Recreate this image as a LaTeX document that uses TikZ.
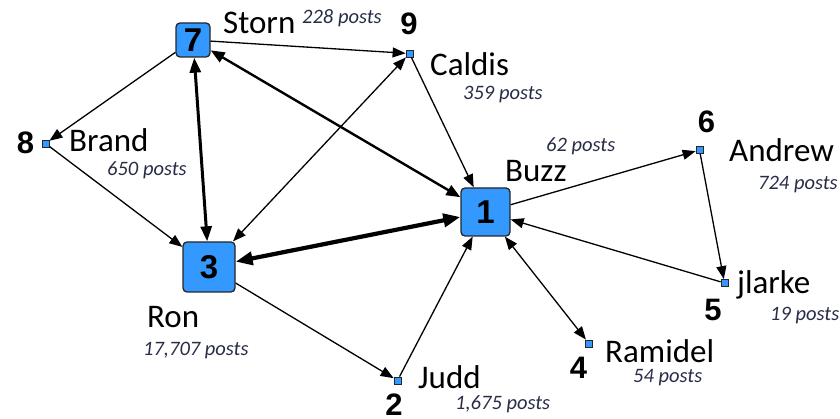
\documentclass[tikz,border=0pt]{standalone}
\usepackage{fontspec}
\setmainfont{Carlito}
\newfontfamily\numfont{Liberation Sans}
\usetikzlibrary{arrows.meta}
\definecolor{nodeblue}{RGB}{51,153,255}
\definecolor{postcol}{RGB}{40,45,70}
\begin{document}
\begin{tikzpicture}[x=1pt,y=-1pt,
  bigbox/.style={draw=black!85, line width=1.3pt, fill=nodeblue, rounded corners=4pt, inner sep=0pt,
    font=\numfont\bfseries\fontsize{33}{33}\selectfont},
  dot/.style={draw=black!85, line width=0.8pt, fill=nodeblue, minimum size=7pt, inner sep=0pt},
  uname/.style={anchor=base west, inner sep=0pt, font=\fontsize{33}{33}\selectfont},
  posts/.style={anchor=base west, inner sep=0pt, text=postcol, font=\itshape\fontsize{20.5}{20.5}\selectfont},
  num/.style={anchor=base, inner sep=0pt, font=\numfont\bfseries\fontsize{31}{31}\selectfont},
  link/.style={line width=1.3pt, -{Triangle[length=13pt,width=10pt]}},
  linkb/.style={line width=1.3pt, {Triangle[length=13pt,width=10pt]}-{Triangle[length=13pt,width=10pt]}},
  medb/.style={line width=2.4pt, {Triangle[length=14pt,width=11pt]}-{Triangle[length=14pt,width=11pt]}},
  thickb/.style={line width=3pt, {Triangle[length=15pt,width=11pt]}-{Triangle[length=15pt,width=11pt]}},
  vthickb/.style={line width=4.2pt, {Triangle[length=17pt,width=13pt]}-{Triangle[length=17pt,width=13pt]}}
]
\useasboundingbox (0,0) rectangle (840,419);

% nodes
\node[bigbox, minimum width=34pt, minimum height=34pt] (n7) at (193,40) {7};
\node[bigbox, minimum width=52pt, minimum height=50pt] (n3) at (209,267) {3};
\node[bigbox, minimum width=49pt, minimum height=48pt] (n1) at (485.5,212) {1};
\node[dot] (n9) at (409.5,53.5) {};
\node[dot] (n8) at (45.5,143.5) {};
\node[dot] (n6) at (699.5,150) {};
\node[dot] (n5) at (724.5,283) {};
\node[dot] (n4) at (589,343.5) {};
\node[dot] (n2) at (397.5,380.5) {};

% edges
\draw[link] (n7) -- (n9);
\draw[link] (n7) -- (n8);
\draw[thickb] (n7) -- (n3);
\draw[medb] (n7) -- (n1);
\draw[linkb] (n3) -- (n9);
\draw[link] (n9) -- (n1);
\draw[link] (n8) -- (n3);
\draw[vthickb] (n1) -- (n3);
\draw[link] (n1) -- (n6);
\draw[link] (n6) -- (n5);
\draw[link] (n5) -- (n1);
\draw[linkb] (n1) -- (n4);
\draw[link] (n2) -- (n1);
\draw[link] (n3) -- (n2);

% labels
\node[uname] (lstorn) at (223,34) {Storn};
\node[posts] (pstorn) at (302,24) {228 posts};
\node[num] (l9) at (409,35) {9};
\node[uname] (lcaldis) at (430,76) {Caldis};
\node[posts] (pcaldis) at (463,100) {359 posts};
\node[posts] (pbuzz) at (546,152) {62 posts};
\node[uname] (lbuzz) at (505,182) {Buzz};
\node[num] (l6) at (706.5,133) {6};
\node[uname] (landrew) at (729,162) {Andrew};
\node[posts] (pandrew) at (758,190) {724 posts};
\node[num] (l8) at (25.5,154) {8};
\node[uname] (lbrand) at (69,152) {Brand};
\node[posts] (pbrand) at (107,176) {650 posts};
\node[uname] (lron) at (147,327) {Ron};
\node[posts] (pron) at (143,355) {17,707 posts};
\node[num] (l2) at (394,415) {2};
\node[uname] (ljlarke) at (737,294) {jlarke};
\node[num] (l5) at (713,320) {5};
\node[posts] (pjlarke) at (770,321) {19 posts};
\node[uname] (lramidel) at (605,362) {Ramidel};
\node[num] (l4) at (578.5,378) {4};
\node[posts] (pramidel) at (633,382) {54 posts};
\node[uname] (ljudd) at (418,388) {Judd};
\node[posts] (pjudd) at (455,409) {1,675 posts};
\end{tikzpicture}
\end{document}
